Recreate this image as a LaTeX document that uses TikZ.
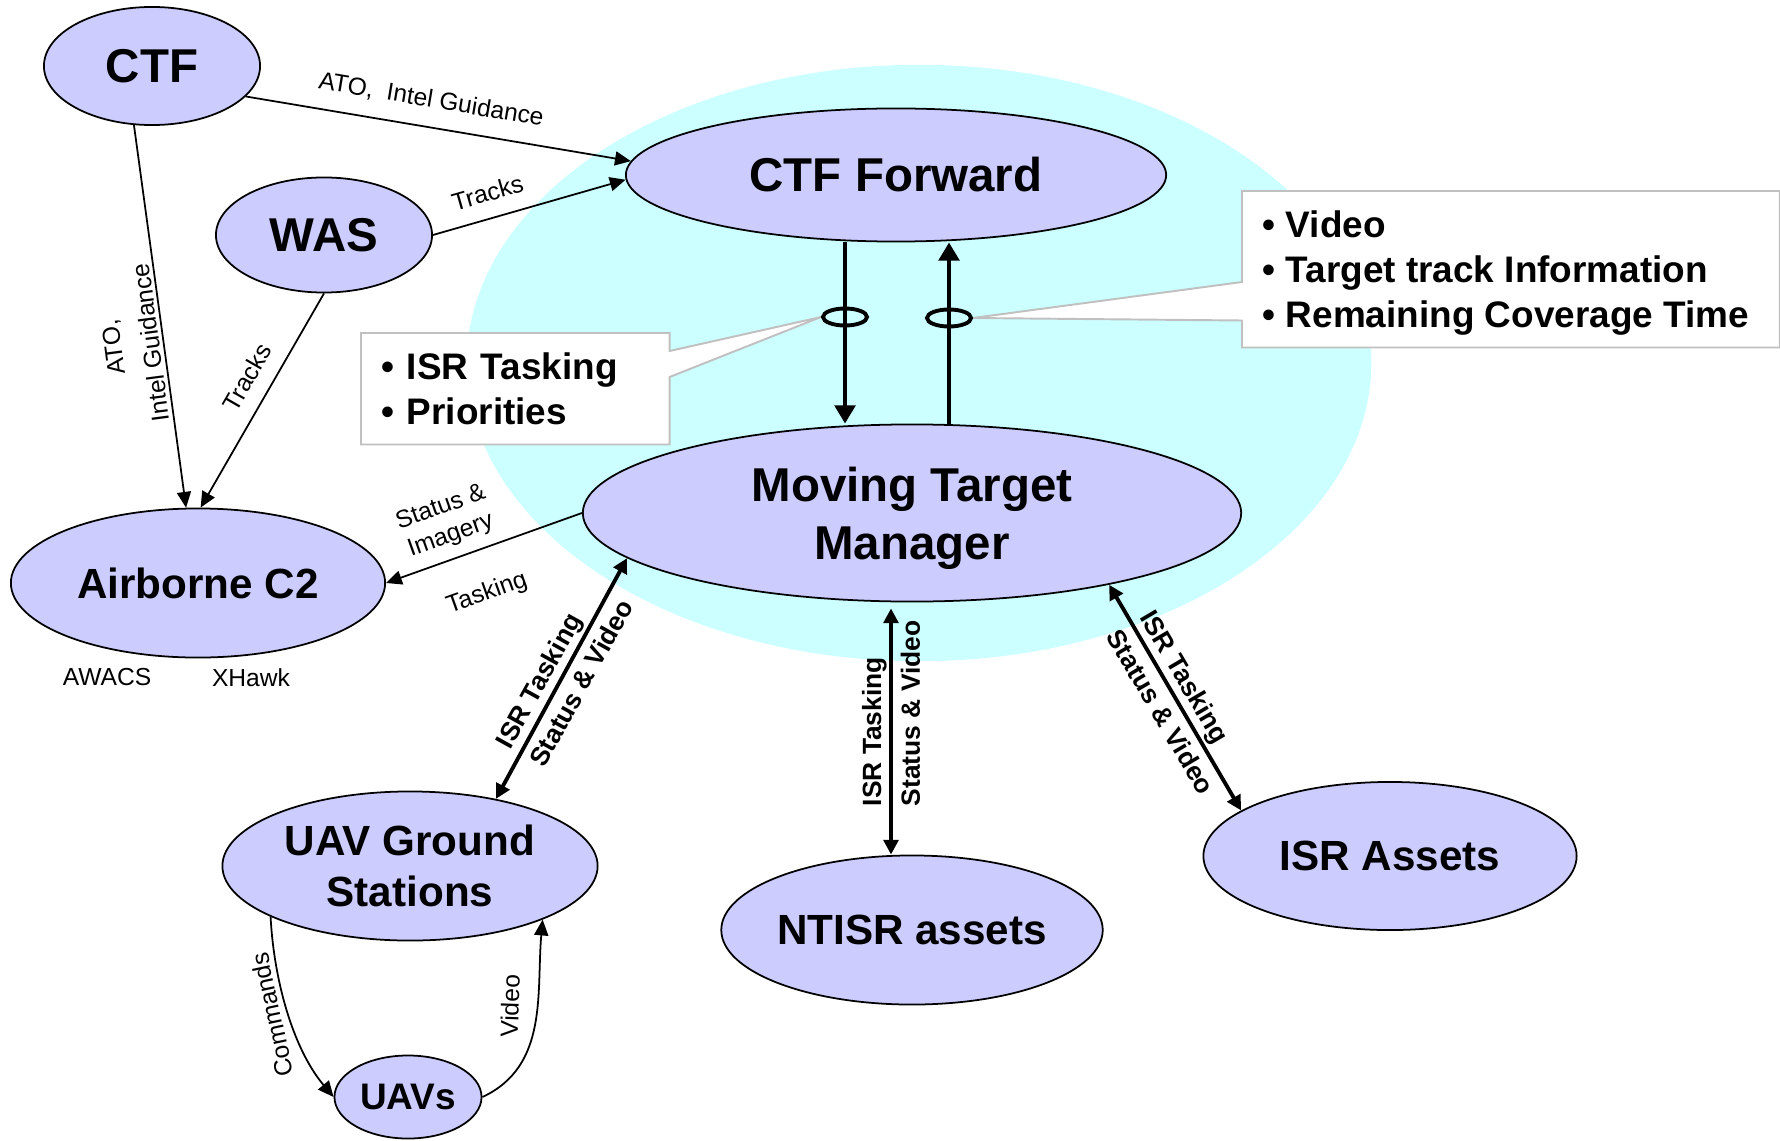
\documentclass[tikz,border=0pt]{standalone}
\usepackage{fontspec}
\setmainfont{Liberation Sans}
\usetikzlibrary{shapes.geometric,arrows.meta,calc,backgrounds}
\definecolor{lav}{HTML}{CCCCFF}
\definecolor{aqua}{HTML}{CCFFFF}
\definecolor{calgray}{HTML}{C0C0C0}
\tikzset{
  ent/.style={ellipse, draw, fill=lav, line width=.5pt, inner sep=0pt, align=center},
  bigtxt/.style={font=\bfseries\fontsize{13.5}{16.5}\selectfont},
  midtxt/.style={font=\bfseries\fontsize{12}{14.5}\selectfont},
  lbl/.style={font=\fontsize{7}{8.4}\selectfont, inner sep=1pt},
  boldlbl/.style={font=\bfseries\fontsize{7.5}{11}\selectfont, align=left, inner sep=0pt},
  arr/.style={line width=.5pt, -{Triangle[length=4.5pt,width=4pt]}},
  dblarr/.style={line width=1.1pt, {Triangle[length=4.2pt,width=4.2pt]}-{Triangle[length=4.2pt,width=4.2pt]}},
  bundle/.style={line width=1.4pt, -{Triangle[length=5.2pt,width=5.8pt]}},
  ring/.style={ellipse, draw, line width=1.1pt, minimum width=.44cm, minimum height=.17cm, inner sep=0pt},
  callbox/.style={align=left, inner xsep=.2cm, font=\bfseries\fontsize{10.5}{12.6}\selectfont},
  calloutline/.style={draw=calgray, fill=white, line width=.55pt}
}
\begin{document}
\begin{tikzpicture}[x=.01cm, y=-.01cm]
\useasboundingbox (0,0) rectangle (1780,1140);

\node[ent, bigtxt, minimum width=2.16cm, minimum height=1.18cm] (ctf) at (152,66) {CTF};
\node[ent, bigtxt, minimum width=2.16cm, minimum height=1.15cm] (was) at (324,235) {WAS};
\node[ent, bigtxt, minimum width=5.4cm, minimum height=1.33cm] (ctff) at (896,175) {CTF Forward};
\node[ent, bigtxt, text depth=0pt, minimum width=6.58cm, minimum height=1.77cm] (mtm) at (912,513) {Moving Target\\Manager};
\node[ent, midtxt, minimum width=3.74cm, minimum height=1.49cm] (air) at (198,583) {Airborne C2};
\node[ent, midtxt, minimum width=3.75cm, minimum height=1.49cm] (gs) at (410,866) {UAV Ground\\Stations};
\node[ent, midtxt, minimum width=3.75cm, minimum height=1.49cm] (ntisr) at (912,930) {NTISR assets};
\node[ent, midtxt, minimum width=3.73cm, minimum height=1.48cm] (isr) at (1390,856) {ISR Assets};
\node[ent, font=\bfseries\fontsize{10.5}{12}\selectfont, minimum width=1.47cm, minimum height=.83cm] (uav) at (408,1097) {UAVs};

\node[lbl] (awacs) at (107,677) {AWACS};
\node[lbl] (xhawk) at (251,678) {XHawk};

\node[ring] (ringA) at (845,317) {};
\node[ring] (ringB) at (949,318) {};

\node[callbox, text width=2.67cm, minimum height=1.1cm, anchor=north west] (isrbox) at (361,333) {• ISR Tasking\\• Priorities};
\node[minimum width=5.36cm, minimum height=1.55cm, inner sep=0pt, anchor=north west] (vidbox) at (1242,191) {};
\node[callbox, font=\bfseries\fontsize{10.5}{12.9}\selectfont, inner xsep=0pt, anchor=west] (vidtxt) at (1262,273) {• Video\\• Target track Information\\• Remaining Coverage Time};

\draw[arr] (ctf.-18) -- (ctff.177) node[lbl, pos=.47, sloped, above=3.5pt] (atofwd) {ATO,\ \ Intel Guidance};
\draw[arr] (was.east) -- (ctff.181) node[lbl, pos=.32, sloped, above=3.5pt] (trkfwd) {Tracks};
\draw[arr] (ctf.253) -- (air.99);
\node[lbl, rotate=97.5, align=center, font=\fontsize{7}{10.8}\selectfont] (atoair) at (132,345) {ATO,\\Intel Guidance};
\draw[arr] (was.south) -- (air.88) node[lbl, pos=.45, sloped, above=3.3pt] (trkair) {Tracks};
\draw[arr] (mtm.west) -- (air.east) node[lbl, pos=.63, sloped, above=2pt, align=center] (stimg) {Status \&\\Imagery} node[lbl, pos=.56, sloped, below=8pt] (taskair) {Tasking};

\draw[dblarr] (mtm.189) -- (gs.38) node[boldlbl, pos=.48, rotate=61] (lblgs) {ISR Tasking\\Status \& Video};
\draw[dblarr, shorten <=.06cm] ([xshift=-.21cm]mtm.south) -- ([xshift=-.21cm]ntisr.north) node[boldlbl, pos=.44, rotate=90] (lblnt) {ISR Tasking\\Status \& Video};
\draw[dblarr] (mtm.-20) -- (isr.163) node[boldlbl, pos=.52, rotate=-59.5] (lblisr) {ISR Tasking\\Status \& Video};

\draw[bundle] (ctff.south -| ringA) -- (mtm.north -| ringA);
\draw[bundle] (mtm.north -| ringB) -- (ctff.south -| ringB);

\draw[arr] (gs.200) to[out=-87, in=130, looseness=.85] (uav.west);
\draw[arr] (uav.east) to[out=25, in=-95] (gs.-22);
\node[lbl, rotate=102] (cmdlbl) at (272,1015) {Commands};
\node[lbl, rotate=88] (vidlbl) at (510,1006) {Video};

\begin{scope}[on background layer]
\fill[aqua] (919,363) ellipse [x radius=4.52cm, y radius=2.98cm];
\draw[calloutline] (isrbox.north west) -- (isrbox.north east) -- ($(isrbox.north east)+(0,18)$) -- (ringA.west) -- ($(isrbox.north east)+(0,44)$) -- (isrbox.south east) -- (isrbox.south west) -- cycle;
\draw[calloutline] (vidbox.north west) -- (vidbox.north east) -- (vidbox.south east) -- (vidbox.south west) -- ($(vidbox.south west)+(0,-27)$) -- (ringB.east) -- ($(vidbox.north west)+(0,91)$) -- cycle;
\end{scope}
\end{tikzpicture}
\end{document}
